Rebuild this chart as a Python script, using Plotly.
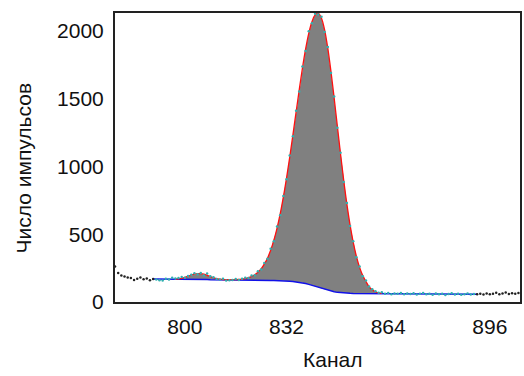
import plotly.graph_objects as go

# ---- data ----
channels = list(range(778, 906))
counts = [262, 214, 196, 188, 181, 176, 163, 172, 180, 168, 174, 161, 170,
          166, 160, 158, 171, 165, 178, 174, 176, 185, 179, 192, 200, 212, 205,
          214, 196, 210, 190, 182, 170, 166, 171, 158, 160, 162, 170, 163, 172,
          179, 176, 195, 198, 226, 240, 288, 318, 392, 447, 556, 640, 781, 905,
          1080, 1221, 1410, 1552, 1735, 1850, 1995, 2055, 2124, 2119, 2102, 1990,
          1880, 1688, 1515, 1285, 1100, 885, 730, 560, 448, 330, 262, 190, 158,
          115, 94, 79, 68, 72, 61, 66, 58, 63, 60, 67, 57, 62, 59, 64, 55, 61, 66,
          58, 60, 53, 63, 57, 61, 52, 59, 64, 56, 60, 54, 58, 62, 55, 59,
          57, 61, 55, 63, 58, 60, 68, 57, 62, 70, 59, 64, 61, 67]

roi_start, roi_end = 791, 891          # channels drawn as cyan points

base_channels = list(range(790, 893))
baseline = [170, 170, 169, 169, 168, 168, 168, 167, 167, 167, 166, 166, 166,
            166, 165, 165, 165, 165, 164, 164, 164, 164, 163, 163, 163, 163,
            162, 162, 162, 162, 161, 161, 161, 160, 160, 160, 159, 159, 158,
            158, 157, 156, 155, 153, 151, 148, 145, 141, 136, 130, 123, 116,
            108, 100, 93, 86, 80, 75, 71, 68, 66, 65, 64, 63, 63, 62, 62, 62,
            62, 62, 62, 61, 61, 61, 61, 61, 61, 61, 60, 60, 60, 60, 60, 60,
            60, 59, 59, 59, 59, 59, 59, 59, 59, 58, 58, 58, 58, 58, 58, 58,
            58, 58, 58]

fit_channels = list(range(797, 863))
fit = [169, 171, 175, 181, 189, 198, 206, 209, 209, 205, 197, 187, 179, 172,
       168, 165, 164, 164, 165, 165, 166, 169, 173, 179, 188, 201, 219, 244,
       279, 323, 381, 454, 543, 649, 773, 913, 1066, 1230, 1398, 1564, 1722,
       1863, 1980, 2065, 2116, 2128, 2092, 2004, 1869, 1697, 1502, 1296, 1091,
       896, 721, 568, 439, 336, 255, 195, 151, 112, 90, 74, 67, 63]

x_ticks = [800, 832, 864, 896]
y_ticks = [0, 500, 1000, 1500, 2000]
x_title = "Канал"
y_title = "Число импульсов"

# ---- derived subsets ----
base_map = dict(zip(base_channels, baseline))
fill_base = [base_map[c] for c in fit_channels]

in_x = [c for c in channels if roi_start <= c <= roi_end]
in_y = [v for c, v in zip(channels, counts) if roi_start <= c <= roi_end]
out_x = [c for c in channels if not (roi_start <= c <= roi_end)]
out_y = [v for c, v in zip(channels, counts) if not (roi_start <= c <= roi_end)]

fig = go.Figure()
# gray peak area between fit and baseline
fig.add_trace(go.Scatter(x=fit_channels, y=fill_base, mode="lines",
                         line=dict(width=0), showlegend=False, hoverinfo="skip"))
fig.add_trace(go.Scatter(x=fit_channels, y=fit, mode="lines",
                         line=dict(width=0), fill="tonexty",
                         fillcolor="#808080", showlegend=False))
# baseline
fig.add_trace(go.Scatter(x=base_channels, y=baseline, mode="lines",
                         line=dict(color="#1010e8", width=1.5), showlegend=False))
# fit curve
fig.add_trace(go.Scatter(x=fit_channels, y=fit, mode="lines",
                         line=dict(color="#ff1010", width=1.3, shape="spline"),
                         showlegend=False))
# data points
fig.add_trace(go.Scatter(x=in_x, y=in_y, mode="markers",
                         marker=dict(color="#30b0b0", size=2.5), showlegend=False))
fig.add_trace(go.Scatter(x=out_x, y=out_y, mode="markers",
                         marker=dict(color="#222222", size=2.5), showlegend=False))

font = dict(family="Liberation Sans, Arial, sans-serif", size=21, color="#111111")

fig.update_xaxes(range=[778, 905.5], tickvals=x_ticks, ticktext=[str(v) for v in x_ticks],
                 showgrid=False, zeroline=False, showline=True, mirror=True,
                 linecolor="#222222", linewidth=2, ticks="outside", ticklen=5,
                 tickcolor="rgba(0,0,0,0)", tickfont=font)
fig.update_yaxes(range=[0, 2130], tickvals=y_ticks, ticktext=[str(v) for v in y_ticks],
                 showgrid=False, zeroline=False, showline=True, mirror=True,
                 linecolor="#222222", linewidth=2, ticks="outside", ticklen=5,
                 tickcolor="rgba(0,0,0,0)", tickfont=font)

fig.add_annotation(text=x_title, xref="paper", yref="paper", x=0.538, y=-0.2,
                   xanchor="center", yanchor="middle", showarrow=False, font=font)
fig.add_annotation(text=y_title, xref="paper", yref="paper", x=-0.225, y=0.465,
                   xanchor="center", yanchor="middle", textangle=-90,
                   showarrow=False, font=font)

fig.update_layout(width=524, height=376, margin=dict(l=115, r=2, t=13, b=74),
                  paper_bgcolor="white", plot_bgcolor="white")

fig.write_html("out.html", config={"displayModeBar": False},
               post_script="document.body.style.margin='0';document.body.style.overflow='hidden';")
